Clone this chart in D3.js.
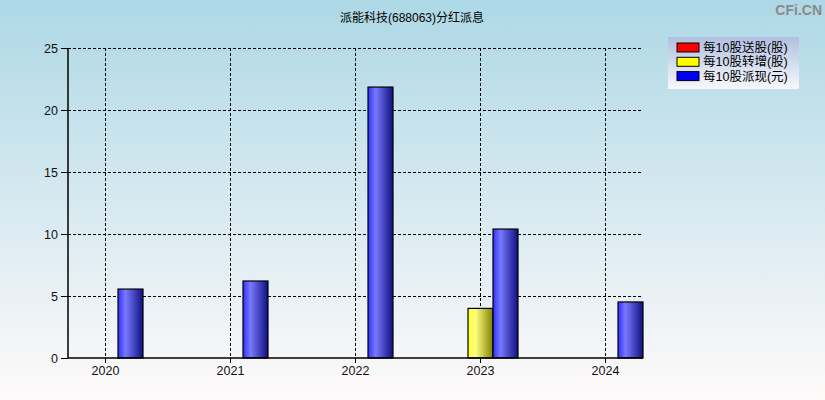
<!DOCTYPE html>
<html>
  <head>
    <meta charset="utf-8">
    <style type="text/css">
      body { margin: 0; }
      svg { display: block; font-family: "Liberation Sans", "Noto Sans CJK SC", sans-serif; }
      .grid line { stroke: black; stroke-dasharray: 3,2; }
    </style>
  </head>
  <body>
    <div id="chart"></div>
    <script src="https://d3js.org/d3.v7.min.js"></script>
    <script>
      const years = ["2020", "2021", "2022", "2023", "2024"];
      const seriesNames = ["每10股送股(股)", "每10股转增(股)", "每10股派现(元)"];
      const songGu = [0, 0, 0, 0, 0];
      const zhuanZeng = [0, 0, 0, 4.0, 0];
      const paiXian = [5.56, 6.21, 21.85, 10.4, 4.52];
      const yTicks = [0, 5, 10, 15, 20, 25];
      const title = "派能科技(688063)分红派息";

      const width = 825, height = 400;
      const margin = {top: 48, right: 182, bottom: 42, left: 68};
      const plotW = width - margin.left - margin.right;
      const plotH = height - margin.top - margin.bottom;

      const svg = d3.select("#chart").append("svg")
        .attr("width", width)
        .attr("height", height);

      const defs = svg.append("defs");
      const bg = defs.append("linearGradient").attr("id", "bg")
        .attr("x1", 0).attr("y1", 0).attr("x2", 0).attr("y2", 1);
      bg.append("stop").attr("offset", "0%").attr("stop-color", "#add8e6");
      bg.append("stop").attr("offset", "100%").attr("stop-color", "#fffafa");

      const lg = defs.append("linearGradient").attr("id", "lg")
        .attr("x1", 0).attr("y1", 0).attr("x2", 0).attr("y2", 1);
      lg.append("stop").attr("offset", "0%").attr("stop-color", "#b0c0e0");
      lg.append("stop").attr("offset", "100%").attr("stop-color", "#f8f8fc");

      const barColors = [
        ["#ff3030", "#ff8080", "#800000"],
        ["#ffff30", "#ffff80", "#808000"],
        ["#3030ff", "#7878ff", "#101080"]
      ];
      barColors.forEach((c, i) => {
        const g = defs.append("linearGradient").attr("id", "bar" + i)
          .attr("x1", 0).attr("y1", 0).attr("x2", 1).attr("y2", 0);
        g.append("stop").attr("offset", "0%").attr("stop-color", c[0]);
        g.append("stop").attr("offset", "30%").attr("stop-color", c[1]);
        g.append("stop").attr("offset", "100%").attr("stop-color", c[2]);
      });

      svg.append("rect").attr("width", width).attr("height", height).attr("fill", "url(#bg)");

      svg.append("text")
        .attr("x", 412).attr("y", 22)
        .attr("text-anchor", "middle")
        .style("font-size", "12px")
        .text(title);

      svg.append("text")
        .attr("x", 822).attr("y", 15)
        .attr("text-anchor", "end")
        .style("font-size", "14px")
        .style("font-weight", "bold")
        .attr("fill", "#8a8a8a")
        .text("CFi.CN");

      const g = svg.append("g").attr("transform", `translate(${margin.left},${margin.top})`);

      const x = d3.scalePoint().domain(years).range([0, plotW]).padding(0.3);
      const y = d3.scaleLinear().domain([0, 25]).range([plotH, 0]);
      const barW = 25;

      // grid
      const grid = g.append("g").attr("class", "grid");
      grid.selectAll(".h").data(yTicks.filter((d) => d > 0)).enter().append("line")
        .attr("x1", 0).attr("x2", plotW)
        .attr("y1", (d) => y(d) + 0.5).attr("y2", (d) => y(d) + 0.5);
      grid.selectAll(".v").data(years).enter().append("line")
        .attr("x1", (d) => Math.floor(x(d)) + 0.5).attr("x2", (d) => Math.floor(x(d)) + 0.5)
        .attr("y1", 0).attr("y2", plotH);

      // bars
      const series = [songGu, zhuanZeng, paiXian];
      series.forEach((vals, si) => {
        g.append("g").selectAll("rect")
          .data(vals.map((v, i) => ({year: years[i], v: v})).filter((d) => d.v > 0))
          .enter().append("rect")
          .attr("x", (d) => x(d.year) - 37.5 + si * barW)
          .attr("y", (d) => y(d.v))
          .attr("width", barW)
          .attr("height", (d) => plotH - y(d.v))
          .attr("fill", "url(#bar" + si + ")")
          .attr("stroke", "black")
          .attr("stroke-width", 1.2);
      });

      // axes
      const yAxis = g.append("g")
        .call(d3.axisLeft(y).tickValues(yTicks).tickSize(7).tickPadding(3));
      const xAxis = g.append("g").attr("transform", `translate(0,${plotH})`)
        .call(d3.axisBottom(x).tickSize(5).tickPadding(3));
      xAxis.selectAll(".tick").attr("transform", (d) => `translate(${Math.floor(x(d)) + 0.5},0)`);
      [yAxis, xAxis].forEach((a) => {
        a.select(".domain").attr("stroke", "black").attr("stroke-width", 1.5);
        a.selectAll(".tick line").attr("stroke", "black");
        a.selectAll("text").style("font-size", "12.5px").attr("fill", "#111");
      });
      yAxis.select(".domain").attr("d", `M0,${plotH}V0`);
      xAxis.select(".domain").attr("d", `M0,0H${plotW}`);

      // legend
      const legend = svg.append("g").attr("transform", "translate(668,37)");
      legend.append("rect").attr("width", 131).attr("height", 52).attr("fill", "url(#lg)");
      const items = legend.selectAll("g").data(seriesNames).enter().append("g")
        .attr("transform", (d, i) => `translate(9,${6 + i * 14.3})`);
      items.append("rect")
        .attr("width", 22).attr("height", 9)
        .attr("fill", (d, i) => ["#ff0000", "#ffff00", "#0000ff"][i])
        .attr("stroke", "black");
      items.append("text")
        .attr("x", 26).attr("y", 9)
        .style("font-size", "12.5px")
        .text((d) => d);
    </script>
  </body>
</html>
